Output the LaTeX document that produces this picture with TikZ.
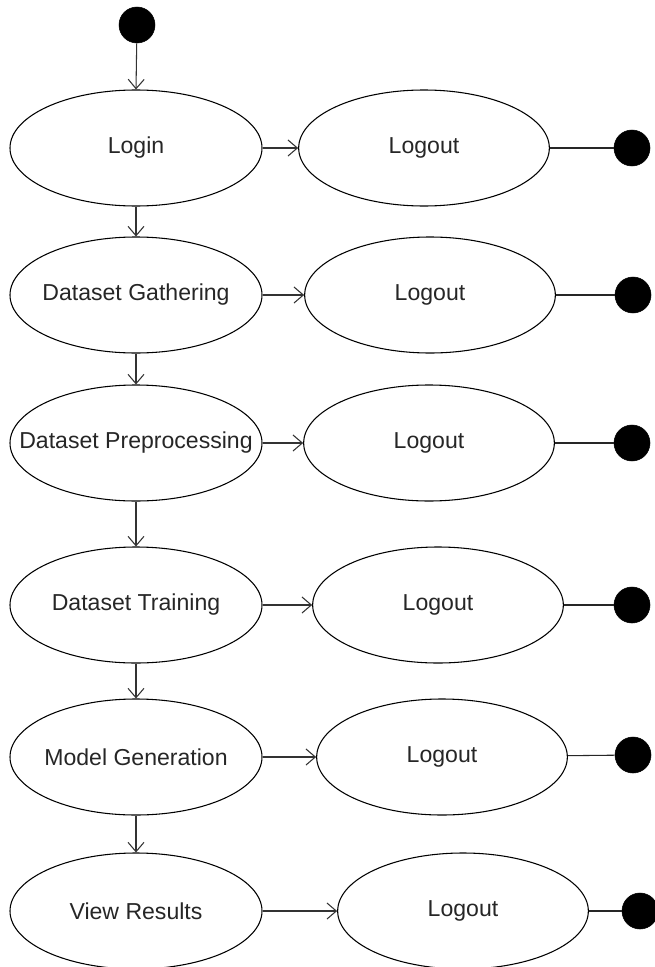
\documentclass[tikz,border=0pt]{standalone}
\usepackage{fontspec}
\setmainfont{Liberation Sans}
\usetikzlibrary{shapes.geometric,arrows.meta}
% centred label of zero width, so the ellipse keeps its set size
\newcommand\uclabel[1]{\makebox[0pt][c]{#1}}
\begin{document}
\begin{tikzpicture}[x=0.75pt,y=-0.75pt,
  usecase/.style={draw=black,line width=0.8pt,ellipse,inner sep=0pt,
    minimum width=189pt,minimum height=87pt,font=\fontsize{17.3}{19}\selectfont,text=black!85},
  logoutcase/.style={usecase,minimum width=188pt},
  blob/.style={circle,fill=black,draw=black,inner sep=0pt,minimum size=27pt},
  flow/.style={draw=black!80,line width=0.8pt,-{Straight Barb[length=7pt,width=12pt,line width=0.8pt]}},
  endline/.style={draw=black!85,line width=0.8pt}]
\useasboundingbox (0,0) rectangle (654,967);

% initial state
\node[blob] (start) at (137,25) {};

% main sequence of activities
\node[usecase] (login) at (136,148) {\uclabel{Login}};
\node[usecase] (gather) at (136,295) {\uclabel{Dataset Gathering}};
\node[usecase] (prep) at (136,443) {\uclabel{Dataset Preprocessing}};
\node[usecase] (train) at (136,605) {\uclabel{Dataset Training}};
\node[usecase] (model) at (136,757) {\uclabel{Model Generation}};
\node[usecase] (view) at (136,911) {\uclabel{View Results}};

% logout branches
\node[logoutcase] (out1) at (424,148) {\uclabel{Logout}};
\node[logoutcase] (out2) at (430,295) {\uclabel{Logout}};
\node[logoutcase] (out3) at (429,443) {\uclabel{Logout}};
\node[logoutcase] (out4) at (438,605) {\uclabel{Logout}};
\node[logoutcase] (out5) at (442,757) {\uclabel{Logout}};
\node[logoutcase] (out6) at (463,911) {\uclabel{Logout}};

% final states
\node[blob] (end1) at (632,148) {};
\node[blob] (end2) at (633,295) {};
\node[blob] (end3) at (632,443) {};
\node[blob] (end4) at (632,605) {};
\node[blob] (end5) at (633,755) {};
\node[blob] (end6) at (640,911) {};

% vertical flow
\draw[flow] (start) -- (login.north);
\draw[flow] (login) -- (gather);
\draw[flow] (gather) -- (prep);
\draw[flow] (prep) -- (train);
\draw[flow] (train) -- (model);
\draw[flow] (model) -- (view);

% branches to logout
\draw[flow] (login) -- (out1);
\draw[flow] (gather) -- (out2);
\draw[flow] (prep) -- (out3);
\draw[flow] (train) -- (out4);
\draw[flow] (model) -- (out5);
\draw[flow] (view) -- (out6);

% logout to final state
\draw[endline] (out1) -- (end1);
\draw[endline] (out2) -- (end2);
\draw[endline] (out3) -- (end3);
\draw[endline] (out4) -- (end4);
\draw[endline] (out5) -- (end5);
\draw[endline] (out6) -- (end6);
\end{tikzpicture}
\end{document}
